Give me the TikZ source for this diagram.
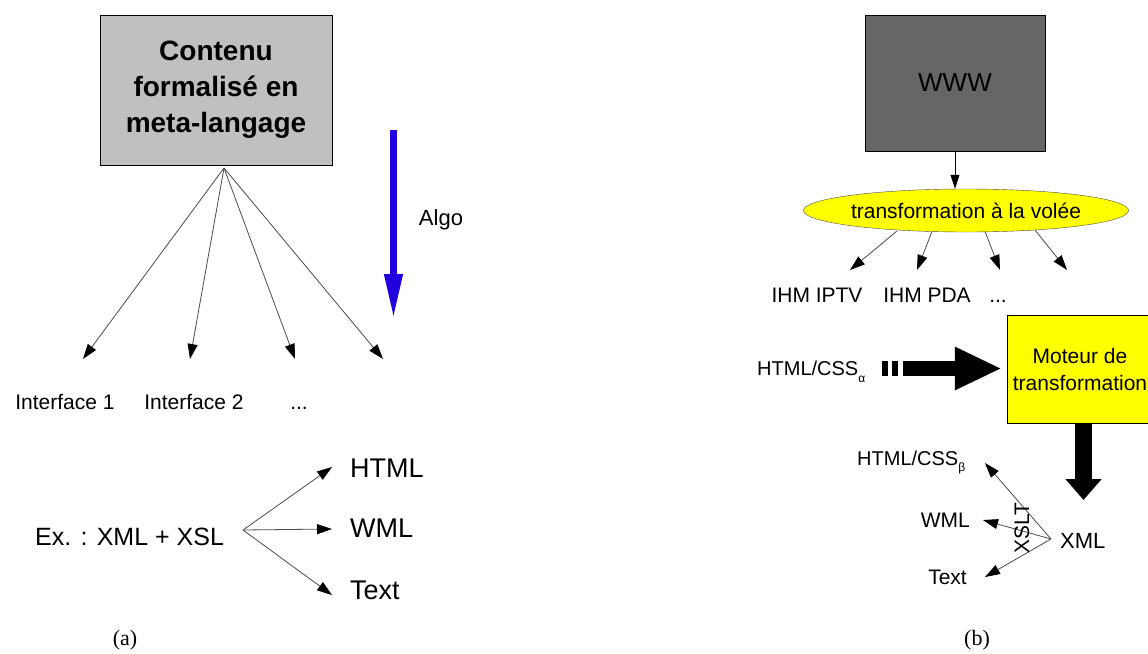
\documentclass[tikz,border=0pt]{standalone}
\usepackage{fontspec}
\setmainfont{Liberation Sans}
\newfontfamily\capfont{Liberation Serif}
\usetikzlibrary{arrows.meta,shapes.geometric}
\definecolor{algoblue}{RGB}{34,0,221}
\definecolor{boxgray}{RGB}{192,192,192}
\definecolor{wwwgray}{RGB}{102,102,102}
\definecolor{hotyellow}{RGB}{255,255,0}
\begin{document}
\begin{tikzpicture}[x=1pt,y=-1pt,
  lbl/.style={inner sep=0pt, anchor=base, font=\fontsize{#1}{#1}\selectfont},
  lbl/.default=21,
  fanarrow/.style={draw=black!70, line width=0.8pt, -{Triangle[length=15pt,width=10pt,color=black]}},
  capt/.style={inner sep=0pt, anchor=base, font=\capfont\fontsize{22}{22}\selectfont}
]
\useasboundingbox (0,0) rectangle (1148,653);
\clip (0,0) rectangle (1148,653);
\fill[white] (0,0) rectangle (1148,653);

% ---------------- (a) ----------------
\node[draw=black, fill=boxgray, minimum width=232pt, minimum height=150pt, inner sep=0pt,
      align=center, font=\bfseries\fontsize{28}{36}\selectfont] (contenu) at (216,90)
      {Contenu\\formalisé en\\meta-langage};
\coordinate (apexA) at (224,168);
\coordinate (ta1) at (83,359);
\coordinate (ta2) at (190,359);
\coordinate (ta3) at (295,359);
\coordinate (ta4) at (383,359);
\foreach \t in {ta1,ta2,ta3,ta4} \draw[fanarrow] (apexA) -- (\t);

\node[lbl] (if1) at (65,409) {Interface 1};
\node[lbl] (if2) at (194,409) {Interface 2};
\node[lbl] (ifdots) at (299,409) {...};

\coordinate (algotop) at (393.5,130);
\coordinate (algotip) at (393.5,319);
\draw[algoblue, line width=7pt, -{Triangle[length=45pt,width=17pt]}] (algotop) -- (algotip);
\node[lbl=22] (algo) at (441,225) {Algo};

\node[lbl=25, anchor=base west] (ex) at (35,545) {Ex. : XML + XSL};
\coordinate (apexB) at (243,530);
\coordinate (tb1) at (332,467);
\coordinate (tb2) at (332,529);
\coordinate (tb3) at (332,595);
\foreach \t in {tb1,tb2,tb3} \draw[fanarrow] (apexB) -- (\t);
\node[lbl=27, anchor=base west] (html) at (350,477) {HTML};
\node[lbl=27, anchor=base west] (wml) at (350,537) {WML};
\node[lbl=27, anchor=base west] (text) at (350,599) {Text};

\node[capt] (capa) at (125,645) {(a)};

% ---------------- (b) ----------------
\node[draw=black, fill=wwwgray, minimum width=180pt, minimum height=136pt, inner sep=0pt,
      font=\fontsize{26}{26}\selectfont] (www) at (955,83) {WWW};
\node[draw=black!70, fill=hotyellow, ellipse, minimum width=306pt, minimum height=43pt, inner sep=0pt,
      font=\fontsize{21}{21}\selectfont] (volee) at (966,210.5) {transformation à la volée};
\draw[draw=black, line width=0.8pt, -{Triangle[length=14pt,width=9pt]}] (www.south) -- (www.south |- volee.north);

\coordinate (sv1) at (897,231);
\coordinate (sv2) at (932,231.5);
\coordinate (sv3) at (985,231.5);
\coordinate (sv4) at (1035,230);
\coordinate (tv1) at (850,270);
\coordinate (tv2) at (917,270);
\coordinate (tv3) at (1000,270);
\coordinate (tv4) at (1067,270);
\draw[fanarrow] (sv1) -- (tv1);
\draw[fanarrow] (sv2) -- (tv2);
\draw[fanarrow] (sv3) -- (tv3);
\draw[fanarrow] (sv4) -- (tv4);

\node[lbl] (iptv) at (817,302) {IHM IPTV};
\node[lbl] (pda) at (927,302) {IHM PDA};
\node[lbl] (ihmdots) at (998,302) {...};

\node[draw=black, fill=hotyellow, minimum width=146pt, minimum height=108pt, inner sep=0pt,
      align=center, font=\fontsize{21}{27}\selectfont] (moteur) at (1080,369)
      {Moteur de\\transformation};

\node[lbl=20, anchor=base west] (cssa) at (757,375)
      {HTML/CSS\raisebox{-7pt}{\fontsize{12}{12}\selectfont α}};
\fill[black] (882,361) rectangle (888,376);
\fill[black] (892,361) rectangle (898,376);
\coordinate (bigstart) at (903,368.5);
\draw[black, line width=15pt, -{Triangle[length=47pt,width=40pt]}, shorten >=5pt] (bigstart) -- (moteur.west |- bigstart);

\coordinate (downstart) at (1083.5,423);
\coordinate (downtip) at (1083.5,500);
\draw[black, line width=17pt, -{Triangle[length=21pt,width=35pt]}] (downstart) -- (downtip);

\node[lbl=22, anchor=base west] (xml) at (1060,548) {XML};
\coordinate (apexC) at (1051,539);
\coordinate (tc1) at (985,463);
\coordinate (tc2) at (983,520);
\coordinate (tc3) at (985,577);
\foreach \t in {tc1,tc2,tc3} \draw[fanarrow] (apexC) -- (\t);

\node[lbl=20, anchor=base west] (cssb) at (857,465)
      {HTML/CSS\raisebox{-6pt}{\fontsize{12}{12}\selectfont β}};
\node[lbl=21, anchor=base east] (wmlb) at (970,527) {WML};
\node[lbl=21, anchor=base east] (textb) at (967,584) {Text};
\node[inner sep=0pt, rotate=90, font=\fontsize{21}{21}\selectfont] (xslt) at (1022,528) {XSLT};

\node[capt] (capb) at (977,645) {(b)};
\end{tikzpicture}
\end{document}
